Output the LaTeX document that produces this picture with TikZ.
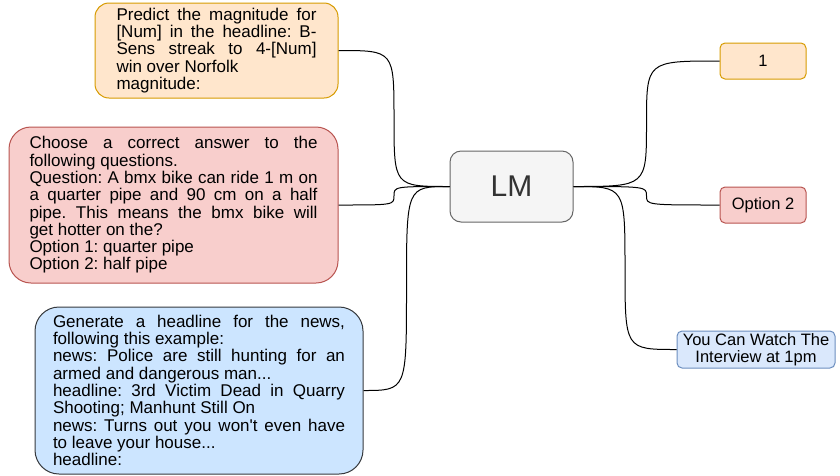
\documentclass[tikz,border=0pt]{standalone}
\usepackage{fontspec}
\setmainfont{Liberation Sans}
\usetikzlibrary{calc}
\definecolor{ofill}{HTML}{FFE6CC}
\definecolor{oline}{HTML}{D79B00}
\definecolor{rfill}{HTML}{F8CECC}
\definecolor{rline}{HTML}{B85450}
\definecolor{bfill}{HTML}{CCE5FF}
\definecolor{bline}{HTML}{36393D}
\definecolor{lbfill}{HTML}{DAE8FC}
\definecolor{lbline}{HTML}{6C8EBF}
\definecolor{lmfill}{HTML}{F5F5F5}
\definecolor{lmline}{HTML}{666666}
\definecolor{lmtext}{HTML}{333333}
\tolerance=10000
\hyphenpenalty=10000
\emergencystretch=20pt
\frenchspacing
\begin{document}
\begin{tikzpicture}[x=1pt,y=-1pt,
  rbox/.style={draw, rounded corners=#1, inner sep=0pt, line width=1pt},
  txt/.style={align=justify, font=\fontsize{17}{17.3}\selectfont},
  small/.style={align=center, font=\fontsize{16.5}{17.5}\selectfont},
  conn/.style={draw=black, line width=1pt}]
\useasboundingbox (0,0) rectangle (840,475);

\node[rbox=14pt, fill=ofill, draw=oline, minimum width=243pt, minimum height=95pt, text width=200pt, txt] (q1) at (216.5,50.5)
{Predict the magnitude for\linebreak[4] [Num] in the headline: B-\linebreak[4] Sens streak to 4-[Num]\linebreak[4] win over Norfolk\newline magnitude:};

\node[rbox=22pt, fill=rfill, draw=rline, minimum width=329pt, minimum height=156pt, text width=288pt, txt] (q2) at (173.5,205)
{Choose a correct answer to the\linebreak[4] following questions.\newline Question: A bmx bike can ride 1 m on\linebreak[4] a quarter pipe and 90 cm on a half\linebreak[4] pipe. This means the bmx bike will\linebreak[4] get hotter on the?\newline Option 1: quarter pipe\newline Option 2: half pipe};

\node[rbox=24pt, fill=bfill, draw=bline, minimum width=328pt, minimum height=167pt, text width=292pt, txt] (q3) at (199,390.5)
{Generate a headline for the news,\linebreak[4] following this example:\newline news: Police are still hunting for an\linebreak[4] armed and dangerous man...\newline headline: 3rd Victim Dead in Quarry\linebreak[4] Shooting; Manhunt Still On\newline news: Turns out you won\textquotesingle t even have\linebreak[4] to leave your house...\newline headline:};

\node[rbox=11pt, fill=lmfill, draw=lmline, minimum width=123pt, minimum height=71pt, font=\fontsize{30}{30}\selectfont, text=lmtext] (lm) at (511.5,186.5) {LM};

\node[rbox=5pt, fill=ofill, draw=oline, minimum width=86pt, minimum height=36pt, small] (a1) at (763,61) {1};
\node[rbox=5pt, fill=rfill, draw=rline, minimum width=86pt, minimum height=36pt, small] (a2) at (763,205) {Option 2};
\node[rbox=5pt, fill=lbfill, draw=lbline, minimum width=158pt, minimum height=37pt, small] (a3) at (756,349.5) {You Can Watch The\\Interview at 1pm};

\coordinate (m1) at ($(q1.east)!0.5!(lm.west)$);
\coordinate (m2) at ($(q2.east)!0.5!(lm.west)$);
\coordinate (m3) at ($(q3.east)!0.5!(lm.west)$);
\coordinate (m4) at ($(lm.east)!0.5!(a1.west)$);
\coordinate (m5) at ($(lm.east)!0.5!(a2.west)$);
\coordinate (m6) at ($(lm.east)!0.5!(a3.west)$);

\draw[conn] (q1.east) .. controls (m1 |- q1.east) .. (m1) .. controls (m1 |- lm.west) .. (lm.west);
\draw[conn] (q2.east) .. controls (m2 |- q2.east) .. (m2) .. controls (m2 |- lm.west) .. (lm.west);
\draw[conn] (q3.east) .. controls (m3 |- q3.east) .. (m3) .. controls (m3 |- lm.west) .. (lm.west);
\draw[conn] (lm.east) .. controls (m4 |- lm.east) .. (m4) .. controls (m4 |- a1.west) .. (a1.west);
\draw[conn] (lm.east) .. controls (m5 |- lm.east) .. (m5) .. controls (m5 |- a2.west) .. (a2.west);
\draw[conn] (lm.east) .. controls (m6 |- lm.east) .. (m6) .. controls (m6 |- a3.west) .. (a3.west);
\end{tikzpicture}
\end{document}
